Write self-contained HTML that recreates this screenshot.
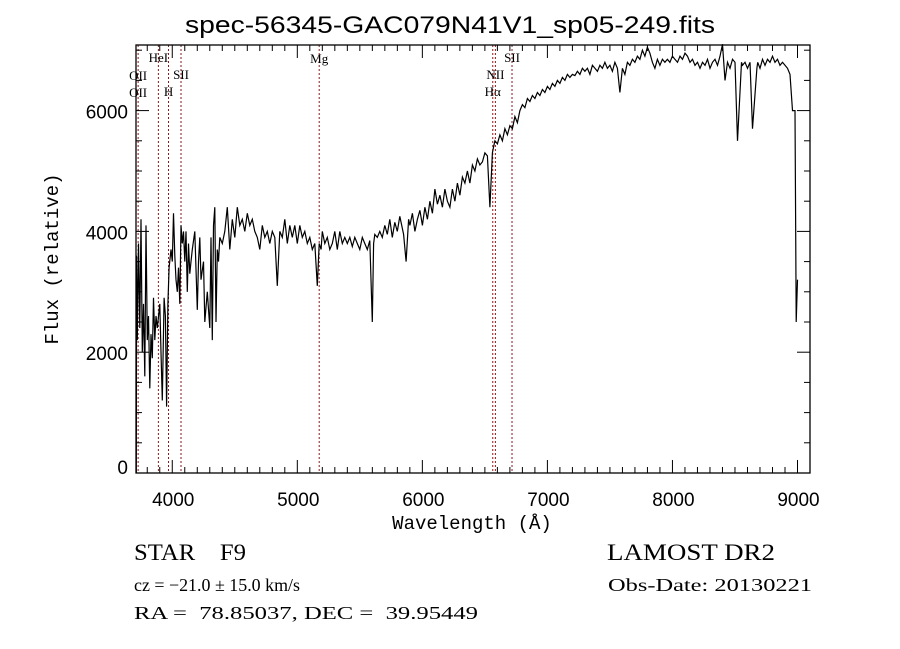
<!DOCTYPE html>
<html><head><meta charset="utf-8"><style>
html,body{margin:0;padding:0;background:#fff;}
svg{display:block;}
text{font-family:"Liberation Sans",sans-serif;fill:#000;white-space:pre;}
.serif{font-family:"Liberation Serif",serif;}
</style></head><body>
<svg id="chart" width="900" height="649" viewBox="0 0 900 649" xmlns="http://www.w3.org/2000/svg" xml:space="preserve">
<text x="185" y="33" font-size="24" textLength="530" lengthAdjust="spacingAndGlyphs">spec-56345-GAC079N41V1_sp05-249.fits</text>
<text transform="translate(58,259) rotate(-90)" text-anchor="middle" font-size="19" style="font-family:'Liberation Mono',monospace">Flux (relative)</text>
<text x="472" y="529" text-anchor="middle" font-size="19" style="font-family:'Liberation Mono',monospace">Wavelength (Å)</text>
<g id="lines"></g>
<g id="axes"></g>
<path id="spec" fill="none" stroke="#000" stroke-width="1.2"/>
<text class="serif" x="134" y="560" font-size="23" textLength="112" lengthAdjust="spacingAndGlyphs">STAR    F9</text>
<text class="serif" x="134" y="591" font-size="18" textLength="166" lengthAdjust="spacingAndGlyphs">cz = −21.0 ± 15.0 km/s</text>
<text class="serif" x="134" y="619" font-size="18" textLength="344" lengthAdjust="spacingAndGlyphs">RA =  78.85037, DEC =  39.95449</text>
<text class="serif" x="607" y="560" font-size="23" textLength="168" lengthAdjust="spacingAndGlyphs">LAMOST DR2</text>
<text class="serif" x="608" y="591" font-size="18" textLength="204" lengthAdjust="spacingAndGlyphs">Obs-Date: 20130221</text>
</svg>
<script>
const xTicks=[4000,5000,6000,7000,8000,9000];
const yTicks=[0,2000,4000,6000];
const lineWaves=[3727,3889,3970,4070,5175,6563,6584,6717];
const lineNames=["OII","HeI","H","SII","Mg","Hα","NII","SII"];
const wave=[3712,3715,3720,3730,3740,3750,3760,3770,3780,3790,3800,3810,3820,3830,3840,3850,3860,3870,3880,3900,3910,3920,3935,3945,3955,3965,3975,3990,4000,4010,4020,4030,4040,4050,4060,4070,4080,4090,4100,4110,4120,4130,4140,4150,4160,4180,4200,4210,4220,4230,4250,4260,4280,4300,4310,4320,4330,4340,4350,4360,4370,4380,4400,4420,4440,4460,4480,4500,4520,4540,4560,4580,4600,4620,4640,4660,4680,4700,4720,4740,4760,4780,4800,4820,4840,4860,4880,4900,4920,4940,4960,4980,5000,5020,5040,5060,5080,5100,5120,5140,5160,5175,5190,5200,5220,5240,5260,5280,5300,5320,5340,5360,5380,5400,5420,5440,5460,5480,5500,5520,5540,5560,5580,5600,5610,5620,5640,5660,5680,5700,5720,5740,5760,5780,5800,5820,5850,5870,5890,5900,5920,5940,5960,5980,6000,6020,6040,6060,6080,6100,6120,6140,6160,6180,6200,6220,6240,6260,6280,6300,6320,6340,6360,6380,6400,6420,6440,6460,6480,6500,6520,6540,6560,6570,6580,6600,6620,6640,6660,6680,6700,6720,6740,6760,6780,6800,6820,6840,6860,6880,6900,6920,6940,6960,6980,7000,7020,7040,7060,7080,7100,7120,7140,7160,7180,7200,7220,7240,7260,7280,7300,7320,7340,7360,7380,7400,7420,7440,7460,7480,7500,7520,7540,7560,7580,7600,7620,7640,7660,7680,7700,7720,7740,7760,7780,7800,7820,7840,7860,7880,7900,7920,7940,7960,7980,8000,8020,8040,8060,8080,8100,8120,8140,8160,8180,8200,8220,8240,8260,8280,8300,8320,8340,8360,8380,8400,8420,8440,8460,8480,8500,8520,8545,8552,8560,8580,8600,8620,8640,8675,8682,8700,8720,8740,8760,8780,8800,8820,8840,8860,8880,8900,8920,8940,8960,8980,8990,9000,9005];
const flux=[0,3600,2200,3800,2400,4200,2000,2800,1600,4100,2200,2600,1400,2300,1900,2900,2200,2600,2400,2800,2000,1200,2900,2600,1100,2800,3400,3700,3500,4300,3600,3200,3000,3400,2800,4100,3800,4000,3500,4000,3000,3800,3300,3500,3700,4000,2700,3500,3900,3200,3500,2500,3000,2400,3900,2200,4100,4400,2500,3700,3500,3900,3800,4000,4400,3700,4200,3900,4400,4100,4200,4000,4300,4100,4200,4000,3900,3700,4100,3900,4000,3800,4000,3900,3100,4000,3900,4200,3800,4100,3900,4100,3800,4100,3900,4000,3800,3900,3700,3800,3100,3800,3700,4000,3800,3900,3700,3800,4000,3700,4000,3800,3900,3800,3900,3750,3900,3800,3700,3900,3800,3700,3850,2500,3800,3950,3900,4000,3900,4100,3950,4200,3900,4150,4000,4250,3950,3500,4200,4100,4300,4000,4200,4350,4100,4400,4200,4500,4300,4700,4450,4600,4400,4700,4500,4400,4700,4500,4800,4600,4900,4800,5000,4800,5100,5000,5200,5100,5150,5300,5250,4400,5300,5400,5500,5450,5600,5500,5700,5600,5750,5700,5900,5800,6000,6100,6050,6200,6150,6250,6200,6300,6250,6350,6300,6400,6350,6450,6400,6500,6450,6550,6500,6600,6550,6600,6580,6650,6600,6700,6650,6700,6600,6750,6700,6650,6750,6700,6800,6700,6750,6650,6800,6700,6300,6700,6600,6800,6750,6850,6800,6900,6850,7000,6900,7050,6950,6800,6700,6850,6750,6850,6800,6850,6800,6900,6850,6800,6900,6850,6950,6900,6800,6850,6750,6800,6700,6800,6750,6850,6700,6800,6850,6750,6900,7100,6500,6800,6700,6850,6800,5500,6500,6800,6750,6800,6700,6800,5700,6700,6800,6700,6850,6750,6850,6800,6900,6800,6850,6750,6800,6750,6700,6600,6000,6000,2500,3200];
const X0=136,X1=810,Y0=45,Y1=473;
const W0=3710,W1=9100,F0=0,F1=7086;
function xs(w){return X0+(w-W0)/(W1-W0)*(X1-X0);}
function ys(f){return Y1-(f-F0)/(F1-F0)*(Y1-Y0);}
const NS="http://www.w3.org/2000/svg";
function mk(tag,attrs,parent){const e=document.createElementNS(NS,tag);for(const k in attrs)e.setAttribute(k,attrs[k]);parent.appendChild(e);return e;}
const axes=document.getElementById('axes');
const frame=mk('rect',{x:X0,y:Y0,width:X1-X0,height:Y1-Y0,fill:'none',stroke:'#000','stroke-width':1.3},axes);


for(let w=3800;w<=9100;w+=100){const x=xs(w);const major=(w%1000===0);const L=major?13:6;
 const t1=mk('line',{x1:x,x2:x,y1:Y1,y2:Y1-L,stroke:'#000'},axes);
 
 
 const t2=mk('line',{x1:x,x2:x,y1:Y0,y2:Y0+L,stroke:'#000'},axes);
 
 }
xTicks.forEach(w=>{const t=mk('text',{x:xs(w)+1,y:506,'text-anchor':'middle','font-size':19},axes);t.textContent=w;
 
 });
for(let f=0;f<=7000;f+=500){const y=ys(f);const major=(f%2000===0);const L=major?13:6;
 const t1=mk('line',{x1:X0,x2:X0+L,y1:y,y2:y,stroke:'#000'},axes);
 
 
 const t2=mk('line',{x1:X1,x2:X1-L,y1:y,y2:y,stroke:'#000'},axes);
 
 }
yTicks.forEach(f=>{const t=mk('text',{x:128,y:Math.min(ys(f)+8,474),'text-anchor':'end','font-size':19},axes);t.textContent=f;
 
 });
const lg=document.getElementById('lines');
const labelPos=[[75,92],[57],[91],[74],[58],[91],[74],[57]];
lineWaves.forEach((w,i)=>{const x=xs(w);
 const l=mk('line',{x1:x,x2:x,y1:Y0,y2:Y1,stroke:'#8b1a1a','stroke-width':1,'stroke-dasharray':'2,2'},lg);
 
 
 labelPos[i].forEach(yy=>{const t=mk('text',{x:x,y:yy+5,'text-anchor':'middle','font-size':13,class:'serif'},lg);t.textContent=lineNames[i];
  
  });
});
let d='';wave.forEach((w,i)=>{d+=(i?'L':'M')+xs(w).toFixed(1)+','+ys(flux[i]).toFixed(1);});
document.getElementById('spec').setAttribute('d',d);
</script>
</body></html>
